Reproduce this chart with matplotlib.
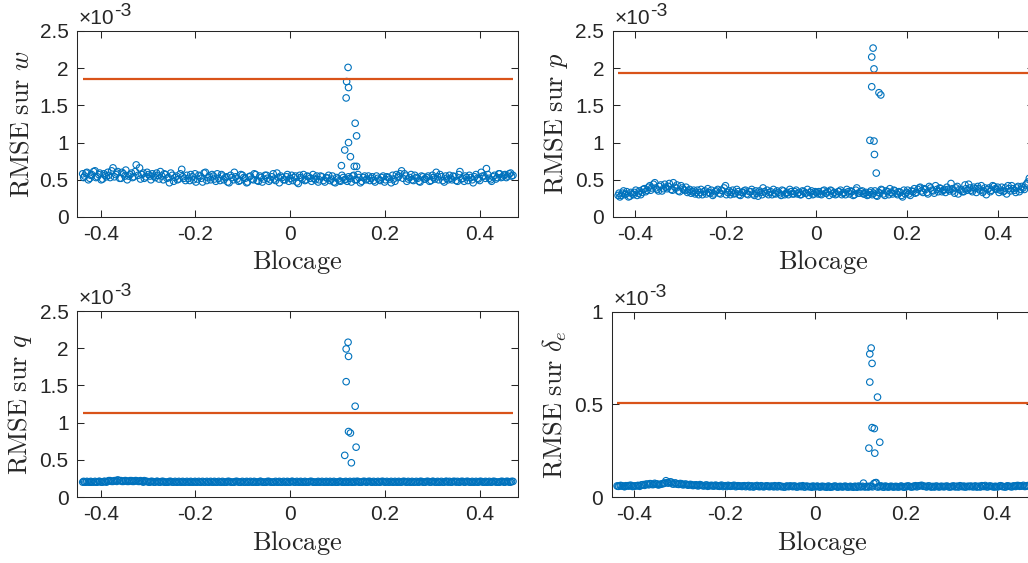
import matplotlib
matplotlib.use("Agg")
import matplotlib.pyplot as plt

plt.rcParams['font.family'] = ['Liberation Sans', 'DejaVu Sans']
plt.rcParams['mathtext.fontset'] = 'cm'

# blockage values shared by the four panels (two interleaved runs)
x_run1 = [
    -0.438, -0.434, -0.429, -0.423, -0.419, -0.412, -0.407, -0.402, -0.396, -0.391,
    -0.385, -0.380, -0.374, -0.368, -0.364, -0.357, -0.352, -0.347, -0.341, -0.335,
    -0.330, -0.325, -0.318, -0.313, -0.308, -0.302, -0.296, -0.291, -0.285, -0.280,
    -0.274, -0.268, -0.263, -0.257, -0.252, -0.246, -0.240, -0.235, -0.229, -0.224,
    -0.218, -0.212, -0.207, -0.201, -0.196, -0.190, -0.185, -0.179, -0.173, -0.168,
    -0.162, -0.157, -0.151, -0.145, -0.140, -0.134, -0.129, -0.123, -0.118, -0.112,
    -0.106, -0.101, -0.095, -0.090, -0.084, -0.078, -0.073, -0.067, -0.062, -0.056,
    -0.050, -0.045, -0.039, -0.034, -0.028, -0.023, -0.017, -0.011, -0.006, 0.000,
    0.005, 0.011, 0.017, 0.022, 0.028, 0.033, 0.039, 0.045, 0.050, 0.056,
    0.061, 0.067, 0.073, 0.078, 0.084, 0.089, 0.095, 0.101, 0.106, 0.112,
    0.117, 0.123, 0.129, 0.134, 0.140, 0.145, 0.151, 0.157, 0.162, 0.168,
    0.173, 0.179, 0.185, 0.190, 0.196, 0.201, 0.207, 0.213, 0.218, 0.224,
    0.229, 0.235, 0.241, 0.246, 0.252, 0.257, 0.263, 0.269, 0.274, 0.280,
    0.285, 0.291, 0.297, 0.302, 0.308, 0.313, 0.319, 0.325, 0.330, 0.336,
    0.341, 0.347, 0.353, 0.358, 0.364, 0.369, 0.375, 0.381, 0.386, 0.392,
    0.397, 0.403, 0.409, 0.414, 0.420, 0.425, 0.431, 0.437, 0.442, 0.448,
    0.453, 0.459, 0.465, 0.470,
]
x_run2 = [
    -0.436, -0.431, -0.426, -0.421, -0.415, -0.410, -0.404, -0.399, -0.393, -0.388,
    -0.383, -0.377, -0.371, -0.366, -0.360, -0.355, -0.349, -0.344, -0.338, -0.333,
    -0.327, -0.321, -0.316, -0.310, -0.305, -0.299, -0.294, -0.288, -0.282, -0.277,
    -0.271, -0.266, -0.260, -0.255, -0.249, -0.243, -0.238, -0.232, -0.227, -0.221,
    -0.215, -0.210, -0.204, -0.199, -0.193, -0.188, -0.182, -0.176, -0.171, -0.165,
    -0.160, -0.154, -0.148, -0.143, -0.137, -0.132, -0.126, -0.120, -0.115, -0.109,
    -0.104, -0.098, -0.092, -0.087, -0.081, -0.076, -0.070, -0.064, -0.059, -0.053,
    -0.048, -0.042, -0.036, -0.031, -0.025, -0.020, -0.014, -0.008, -0.003, 0.003,
    0.008, 0.014, 0.020, 0.025, 0.031, 0.036, 0.042, 0.048, 0.053, 0.059,
    0.064, 0.070, 0.076, 0.081, 0.087, 0.092, 0.098, 0.104, 0.109, 0.115,
    0.120, 0.126, 0.132, 0.137, 0.143, 0.148, 0.154, 0.160, 0.165, 0.171,
    0.176, 0.182, 0.188, 0.193, 0.199, 0.204, 0.210, 0.216, 0.221, 0.227,
    0.232, 0.238, 0.244, 0.249, 0.255, 0.260, 0.266, 0.272, 0.277, 0.283,
    0.288, 0.294, 0.300, 0.305, 0.311, 0.316, 0.322, 0.328, 0.333, 0.339,
    0.344, 0.350, 0.356, 0.361, 0.367, 0.372, 0.378, 0.384, 0.389, 0.395,
    0.400, 0.406, 0.412, 0.417, 0.423, 0.428, 0.434, 0.440, 0.445, 0.451,
    0.456, 0.462, 0.467,
]

# RMSE values, in units of 1e-3
w_run1 = [
    0.58, 0.55, 0.60, 0.52, 0.57, 0.62, 0.54, 0.59, 0.51, 0.56,
    0.60, 0.53, 0.66, 0.57, 0.61, 0.52, 0.58, 0.63, 0.55, 0.59,
    0.54, 0.70, 0.66, 0.57, 0.52, 0.60, 0.55, 0.58, 0.53, 0.56,
    0.61, 0.50, 0.57, 0.53, 0.59, 0.48, 0.55, 0.51, 0.64, 0.52,
    0.56, 0.49, 0.54, 0.58, 0.51, 0.55, 0.47, 0.60, 0.53, 0.50,
    0.55, 0.48, 0.52, 0.57, 0.50, 0.54, 0.46, 0.53, 0.60, 0.51,
    0.49, 0.56, 0.52, 0.47, 0.55, 0.50, 0.57, 0.48, 0.53, 0.51,
    0.56, 0.48, 0.54, 0.51, 0.59, 0.46, 0.53, 0.50, 0.57, 0.52,
    0.49, 0.55, 0.45, 0.53, 0.57, 0.50, 0.54, 0.48, 0.52, 0.55,
    0.50, 0.54, 0.47, 0.52, 0.49, 0.55, 0.46, 0.51, 0.48, 0.53,
    0.51, 0.54, 0.47, 0.56, 0.50, 0.53, 0.48, 0.55, 0.51, 0.49,
    0.54, 0.47, 0.52, 0.49, 0.55, 0.50, 0.53, 0.46, 0.51, 0.57,
    0.55, 0.62, 0.58, 0.48, 0.53, 0.50, 0.56, 0.52, 0.47, 0.54,
    0.51, 0.55, 0.49, 0.53, 0.60, 0.50, 0.54, 0.47, 0.52, 0.56,
    0.50, 0.54, 0.48, 0.61, 0.52, 0.55, 0.49, 0.53, 0.46, 0.57,
    0.51, 0.60, 0.55, 0.65, 0.52, 0.48, 0.56, 0.53, 0.58, 0.54,
    0.57, 0.55, 0.59, 0.56,
]
w_run2 = [
    0.53, 0.59, 0.50, 0.56, 0.61, 0.53, 0.57, 0.50, 0.58, 0.54,
    0.56, 0.62, 0.54, 0.59, 0.52, 0.60, 0.55, 0.50, 0.57, 0.53,
    0.61, 0.56, 0.51, 0.59, 0.54, 0.57, 0.50, 0.55, 0.59, 0.51,
    0.55, 0.58, 0.52, 0.46, 0.56, 0.53, 0.50, 0.58, 0.54, 0.49,
    0.52, 0.57, 0.50, 0.47, 0.56, 0.52, 0.59, 0.49, 0.55, 0.57,
    0.51, 0.58, 0.49, 0.55, 0.53, 0.47, 0.56, 0.50, 0.54, 0.48,
    0.57, 0.53, 0.46, 0.54, 0.51, 0.58, 0.49, 0.55, 0.47, 0.56,
    0.52, 0.50, 0.58, 0.49, 0.53, 0.55, 0.50, 0.54, 0.48, 0.56,
    0.53, 0.47, 0.56, 0.51, 0.49, 0.55, 0.52, 0.57, 0.50, 0.47,
    0.55, 0.49, 0.53, 0.56, 0.51, 0.47, 0.53, 0.49, 0.56, 0.50,
    0.48, 0.52, 0.55, 0.50, 0.57, 0.46, 0.53, 0.50, 0.55, 0.52,
    0.49, 0.55, 0.50, 0.53, 0.47, 0.54, 0.51, 0.56, 0.48, 0.53,
    0.58, 0.52, 0.55, 0.51, 0.57, 0.49, 0.53, 0.48, 0.55, 0.51,
    0.53, 0.48, 0.56, 0.51, 0.54, 0.57, 0.49, 0.55, 0.50, 0.52,
    0.55, 0.49, 0.57, 0.51, 0.48, 0.53, 0.56, 0.50, 0.54, 0.52,
    0.49, 0.55, 0.52, 0.57, 0.50, 0.54, 0.51, 0.58, 0.53, 0.56,
    0.53, 0.58, 0.55,
]
p_run1 = [
    0.29, 0.27, 0.32, 0.30, 0.34, 0.28, 0.31, 0.33, 0.29, 0.35,
    0.33, 0.38, 0.36, 0.42, 0.39, 0.46, 0.37, 0.41, 0.35, 0.44,
    0.38, 0.45, 0.36, 0.40, 0.43, 0.34, 0.39, 0.36, 0.33, 0.37,
    0.34, 0.31, 0.36, 0.33, 0.30, 0.35, 0.38, 0.32, 0.29, 0.34,
    0.37, 0.31, 0.35, 0.42, 0.33, 0.30, 0.36, 0.32, 0.34, 0.29,
    0.33, 0.36, 0.30, 0.34, 0.31, 0.35, 0.28, 0.33, 0.39, 0.32,
    0.30, 0.34, 0.37, 0.31, 0.33, 0.29, 0.35, 0.32, 0.30, 0.34,
    0.31, 0.36, 0.33, 0.30, 0.34, 0.32, 0.29, 0.35, 0.31, 0.33,
    0.34, 0.30, 0.36, 0.32, 0.29, 0.35, 0.33, 0.31, 0.34, 0.30,
    0.33, 0.37, 0.31, 0.34, 0.30, 0.39, 0.32, 0.35, 0.31, 0.29,
    0.33, 0.30, 0.35, 0.28, 0.32, 0.36, 0.29, 0.34, 0.38, 0.31,
    0.35, 0.30, 0.33, 0.27, 0.31, 0.36, 0.29, 0.34, 0.32, 0.37,
    0.40, 0.33, 0.37, 0.31, 0.39, 0.35, 0.42, 0.34, 0.38, 0.36,
    0.33, 0.37, 0.45, 0.35, 0.39, 0.31, 0.36, 0.34, 0.38, 0.44,
    0.36, 0.40, 0.33, 0.38, 0.42, 0.35, 0.30, 0.39, 0.36, 0.41,
    0.37, 0.33, 0.40, 0.35, 0.31, 0.38, 0.42, 0.36, 0.39, 0.34,
    0.41, 0.37, 0.45, 0.52,
]
p_run2 = [
    0.32, 0.29, 0.35, 0.31, 0.27, 0.33, 0.30, 0.36, 0.32, 0.30,
    0.37, 0.34, 0.40, 0.36, 0.44, 0.39, 0.35, 0.43, 0.38, 0.40,
    0.41, 0.37, 0.46, 0.39, 0.35, 0.42, 0.37, 0.40, 0.35, 0.32,
    0.36, 0.33, 0.30, 0.37, 0.34, 0.31, 0.33, 0.36, 0.31, 0.35,
    0.32, 0.36, 0.39, 0.30, 0.35, 0.33, 0.31, 0.37, 0.30, 0.33,
    0.35, 0.31, 0.34, 0.37, 0.29, 0.32, 0.35, 0.30, 0.34, 0.36,
    0.33, 0.30, 0.32, 0.35, 0.31, 0.36, 0.30, 0.33, 0.37, 0.31,
    0.34, 0.31, 0.30, 0.35, 0.32, 0.37, 0.33, 0.30, 0.34, 0.31,
    0.31, 0.35, 0.32, 0.34, 0.36, 0.31, 0.30, 0.34, 0.36, 0.32,
    0.30, 0.34, 0.35, 0.29, 0.36, 0.32, 0.34, 0.31, 0.33, 0.30,
    0.35, 0.32, 0.29, 0.33, 0.37, 0.31, 0.35, 0.30, 0.33, 0.36,
    0.32, 0.34, 0.29, 0.36, 0.33, 0.31, 0.35, 0.38, 0.33, 0.39,
    0.35, 0.38, 0.33, 0.41, 0.36, 0.32, 0.37, 0.39, 0.34, 0.37,
    0.40, 0.35, 0.38, 0.32, 0.41, 0.37, 0.34, 0.43, 0.36, 0.39,
    0.34, 0.38, 0.41, 0.36, 0.33, 0.39, 0.37, 0.34, 0.42, 0.38,
    0.40, 0.36, 0.34, 0.39, 0.42, 0.35, 0.38, 0.33, 0.41, 0.37,
    0.39, 0.43, 0.47,
]
q_run1 = [
    0.20, 0.20, 0.21, 0.20, 0.20, 0.21, 0.20, 0.21, 0.20, 0.21,
    0.21, 0.22, 0.21, 0.22, 0.23, 0.22, 0.21, 0.22, 0.21, 0.22,
    0.21, 0.22, 0.21, 0.21, 0.22, 0.21, 0.20, 0.21, 0.20, 0.21,
    0.20, 0.21, 0.20, 0.20, 0.21, 0.20, 0.20, 0.21, 0.20, 0.20,
    0.21, 0.20, 0.20, 0.21, 0.20, 0.20, 0.21, 0.20, 0.20, 0.21,
    0.20, 0.20, 0.21, 0.20, 0.20, 0.20, 0.21, 0.20, 0.20, 0.21,
    0.20, 0.21, 0.20, 0.20, 0.21, 0.20, 0.20, 0.20, 0.21, 0.20,
    0.20, 0.21, 0.20, 0.20, 0.20, 0.21, 0.20, 0.20, 0.21, 0.20,
    0.21, 0.20, 0.20, 0.21, 0.20, 0.20, 0.20, 0.21, 0.20, 0.20,
    0.20, 0.21, 0.20, 0.20, 0.21, 0.20, 0.20, 0.20, 0.21, 0.20,
    0.21, 0.20, 0.20, 0.21, 0.21, 0.20, 0.20, 0.21, 0.20, 0.21,
    0.20, 0.20, 0.21, 0.20, 0.21, 0.20, 0.20, 0.21, 0.20, 0.20,
    0.21, 0.20, 0.21, 0.20, 0.20, 0.21, 0.20, 0.20, 0.21, 0.20,
    0.20, 0.21, 0.20, 0.21, 0.20, 0.20, 0.21, 0.20, 0.21, 0.21,
    0.20, 0.21, 0.21, 0.20, 0.21, 0.20, 0.21, 0.20, 0.20, 0.21,
    0.20, 0.21, 0.20, 0.20, 0.21, 0.20, 0.21, 0.20, 0.20, 0.21,
    0.20, 0.21, 0.20, 0.21,
]
q_run2 = [
    0.21, 0.20, 0.20, 0.21, 0.20, 0.20, 0.21, 0.20, 0.21, 0.20,
    0.22, 0.21, 0.22, 0.21, 0.22, 0.21, 0.22, 0.21, 0.22, 0.21,
    0.22, 0.21, 0.22, 0.20, 0.21, 0.20, 0.21, 0.20, 0.21, 0.20,
    0.21, 0.20, 0.20, 0.21, 0.20, 0.21, 0.20, 0.20, 0.21, 0.20,
    0.20, 0.21, 0.20, 0.20, 0.21, 0.20, 0.20, 0.21, 0.20, 0.20,
    0.21, 0.20, 0.20, 0.21, 0.20, 0.21, 0.20, 0.20, 0.21, 0.20,
    0.20, 0.20, 0.21, 0.20, 0.20, 0.21, 0.20, 0.21, 0.20, 0.20,
    0.21, 0.20, 0.20, 0.21, 0.20, 0.20, 0.21, 0.20, 0.20, 0.21,
    0.20, 0.21, 0.20, 0.20, 0.21, 0.20, 0.21, 0.20, 0.20, 0.21,
    0.20, 0.20, 0.21, 0.20, 0.20, 0.21, 0.20, 0.21, 0.20, 0.20,
    0.20, 0.21, 0.20, 0.20, 0.21, 0.20, 0.21, 0.20, 0.21, 0.20,
    0.21, 0.20, 0.20, 0.21, 0.20, 0.21, 0.20, 0.20, 0.21, 0.20,
    0.20, 0.21, 0.20, 0.21, 0.20, 0.20, 0.21, 0.20, 0.21, 0.20,
    0.21, 0.20, 0.21, 0.20, 0.21, 0.20, 0.20, 0.21, 0.20, 0.20,
    0.21, 0.20, 0.20, 0.21, 0.20, 0.21, 0.20, 0.21, 0.20, 0.20,
    0.21, 0.20, 0.21, 0.20, 0.20, 0.21, 0.20, 0.20, 0.21, 0.20,
    0.21, 0.20, 0.21,
]
de_run1 = [
    0.060, 0.058, 0.062, 0.057, 0.061, 0.059, 0.063, 0.058, 0.060, 0.062,
    0.064, 0.067, 0.070, 0.066, 0.072, 0.068, 0.071, 0.065, 0.069, 0.073,
    0.088, 0.075, 0.080, 0.070, 0.074, 0.068, 0.072, 0.066, 0.069, 0.065,
    0.067, 0.063, 0.066, 0.062, 0.064, 0.060, 0.065, 0.061, 0.063, 0.059,
    0.062, 0.058, 0.064, 0.060, 0.057, 0.061, 0.059, 0.063, 0.058, 0.060,
    0.057, 0.061, 0.059, 0.055, 0.060, 0.058, 0.062, 0.056, 0.059, 0.057,
    0.060, 0.056, 0.058, 0.061, 0.055, 0.059, 0.057, 0.054, 0.058, 0.060,
    0.056, 0.059, 0.055, 0.058, 0.061, 0.054, 0.057, 0.056, 0.059, 0.055,
    0.058, 0.054, 0.057, 0.055, 0.059, 0.053, 0.056, 0.058, 0.054, 0.057,
    0.055, 0.058, 0.054, 0.057, 0.053, 0.056, 0.059, 0.055, 0.075, 0.057,
    0.054, 0.058, 0.073, 0.078, 0.056, 0.060, 0.053, 0.057, 0.055, 0.058,
    0.054, 0.057, 0.055, 0.059, 0.053, 0.056, 0.058, 0.054, 0.057, 0.055,
    0.060, 0.063, 0.058, 0.055, 0.059, 0.056, 0.054, 0.058, 0.055, 0.057,
    0.056, 0.059, 0.054, 0.057, 0.055, 0.058, 0.061, 0.056, 0.054, 0.058,
    0.057, 0.055, 0.060, 0.056, 0.054, 0.058, 0.062, 0.055, 0.059, 0.056,
    0.058, 0.055, 0.061, 0.057, 0.054, 0.059, 0.056, 0.060, 0.057, 0.062,
    0.059, 0.063, 0.058, 0.062,
]
de_run2 = [
    0.058, 0.062, 0.059, 0.056, 0.061, 0.063, 0.057, 0.060, 0.062, 0.058,
    0.066, 0.063, 0.069, 0.072, 0.067, 0.074, 0.070, 0.068, 0.072, 0.076,
    0.078, 0.082, 0.071, 0.076, 0.069, 0.073, 0.067, 0.070, 0.064, 0.068,
    0.062, 0.065, 0.060, 0.067, 0.061, 0.064, 0.058, 0.062, 0.060, 0.064,
    0.059, 0.062, 0.057, 0.061, 0.063, 0.058, 0.062, 0.056, 0.061, 0.058,
    0.060, 0.056, 0.062, 0.058, 0.054, 0.059, 0.057, 0.061, 0.055, 0.060,
    0.057, 0.059, 0.055, 0.058, 0.061, 0.056, 0.054, 0.059, 0.056, 0.058,
    0.059, 0.054, 0.058, 0.056, 0.055, 0.059, 0.056, 0.053, 0.057, 0.058,
    0.055, 0.058, 0.056, 0.053, 0.057, 0.055, 0.059, 0.054, 0.057, 0.055,
    0.058, 0.054, 0.057, 0.055, 0.058, 0.053, 0.056, 0.058, 0.054, 0.057,
    0.058, 0.055, 0.077, 0.054, 0.057, 0.055, 0.059, 0.054, 0.057, 0.055,
    0.057, 0.054, 0.058, 0.055, 0.057, 0.060, 0.055, 0.058, 0.061, 0.059,
    0.062, 0.058, 0.056, 0.060, 0.054, 0.057, 0.059, 0.055, 0.058, 0.056,
    0.058, 0.055, 0.057, 0.060, 0.056, 0.054, 0.058, 0.059, 0.055, 0.057,
    0.059, 0.056, 0.054, 0.058, 0.061, 0.057, 0.055, 0.059, 0.057, 0.054,
    0.056, 0.059, 0.057, 0.055, 0.060, 0.058, 0.055, 0.059, 0.062, 0.058,
    0.060, 0.057, 0.061,
]

# points of the peak near blockage 0.12
w_peak_x = [0.122, 0.119, 0.123, 0.118, 0.137, 0.140, 0.123, 0.115, 0.127, 0.108, 0.135, 0.140]
w_peak_y = [2.01, 1.82, 1.74, 1.60, 1.26, 1.09, 1.00, 0.90, 0.81, 0.69, 0.68, 0.68]
p_peak_x = [0.125, 0.122, 0.127, 0.122, 0.138, 0.142, 0.118, 0.127, 0.128, 0.132]
p_peak_y = [2.27, 2.15, 1.99, 1.75, 1.67, 1.64, 1.03, 1.02, 0.84, 0.59]
q_peak_x = [0.122, 0.118, 0.123, 0.118, 0.137, 0.123, 0.127, 0.139, 0.115, 0.129]
q_peak_y = [2.08, 1.99, 1.89, 1.55, 1.22, 0.88, 0.86, 0.67, 0.56, 0.46]
de_peak_x = [0.123, 0.120, 0.125, 0.120, 0.137, 0.125, 0.130, 0.142, 0.118, 0.131]
de_peak_y = [0.805, 0.773, 0.722, 0.621, 0.540, 0.375, 0.370, 0.296, 0.264, 0.237]

# horizontal reference level of each panel
levels = [1.85, 1.94, 1.13, 0.51]

ylabels = [r'$\mathrm{RMSE\ sur}\ w$', r'$\mathrm{RMSE\ sur}\ p$',
           r'$\mathrm{RMSE\ sur}\ q$', r'$\mathrm{RMSE\ sur}\ \delta_e$']
ylims = [2.5, 2.5, 2.5, 1.0]
yticks = [[0, 0.5, 1, 1.5, 2, 2.5]] * 3 + [[0, 0.5, 1]]
ytick_labels = [['0', '0.5', '1', '1.5', '2', '2.5']] * 3 + [['0', '0.5', '1']]
xticks = [-0.4, -0.2, 0, 0.2, 0.4]
xtick_labels = ['-0.4', '-0.2', '0', '0.2', '0.4']

blue = '#0072BD'
orange = '#D95319'
dark = '#262626'

fig = plt.figure(figsize=(10.28, 5.63), dpi=100)
positions = [
    [0.0749, 0.6146, 0.4287, 0.3304],
    [0.5960, 0.6146, 0.4097, 0.3304],
    [0.0749, 0.1172, 0.4287, 0.3304],
    [0.5950, 0.1172, 0.4097, 0.3287],
]
runs1 = [w_run1, p_run1, q_run1, de_run1]
runs2 = [w_run2, p_run2, q_run2, de_run2]
peaks = [(w_peak_x, w_peak_y), (p_peak_x, p_peak_y),
         (q_peak_x, q_peak_y), (de_peak_x, de_peak_y)]

for i in range(4):
    ax = fig.add_axes(positions[i])
    for xs, ys in [(x_run1, runs1[i]), (x_run2, runs2[i]), peaks[i]]:
        ax.scatter(xs, ys, s=22, facecolors='none', edgecolors=blue,
                   linewidths=0.8, zorder=2)
    ax.hlines(levels[i], min(x_run1), max(x_run1), colors=orange,
              linewidth=1.6, zorder=3)

    ax.set_xlim(-0.45, 0.48)
    ax.set_ylim(0, ylims[i])
    ax.set_xticks(xticks)
    ax.set_xticklabels(xtick_labels)
    ax.set_yticks(yticks[i])
    ax.set_yticklabels(ytick_labels[i])
    ax.tick_params(direction='in', top=True, right=True, length=5,
                   width=0.75, color=dark, labelcolor=dark, labelsize=15, pad=6)
    for s in ax.spines.values():
        s.set_color(dark)
        s.set_linewidth(0.75)

    ax.set_xlabel(r'$\mathrm{Blocage}$', fontsize=19, color=dark, labelpad=3)
    ax.set_ylabel(ylabels[i], fontsize=19, color=dark, labelpad=4)

    t = ax.annotate('\u00d710', xy=(0, 1), xycoords='axes fraction',
                    xytext=(1, 2), textcoords='offset points',
                    fontsize=15, color=dark, ha='left', va='bottom')
    ax.annotate('-3', xy=(1, 0.45), xycoords=t, xytext=(0, 0),
                textcoords='offset points', fontsize=14, color=dark,
                ha='left', va='bottom')

fig.savefig('out.png', dpi=100)
